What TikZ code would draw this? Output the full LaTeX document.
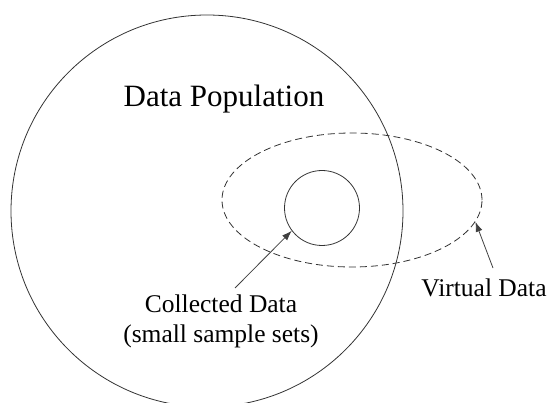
\documentclass[tikz,border=0pt]{standalone}
\usepackage{fontspec}
\setmainfont{Liberation Serif}
\usetikzlibrary{shapes.geometric,arrows.meta}
\begin{document}
\begin{tikzpicture}[x=1pt,y=-1pt,
  ln/.style={draw=black!80, line width=0.8pt},
  arr/.style={black!75, line width=0.8pt, -{Latex[length=10pt,width=7pt]}},
  lbl/.style={inner sep=0pt, anchor=base}]
\useasboundingbox (0,0) rectangle (549,403);
\clip (0,0) rectangle (549,403);
\node[circle, ln, minimum size=392pt, inner sep=0pt] (pop) at (207,211) {};
\node[ellipse, ln, dash pattern=on 7pt off 4pt, minimum width=260pt, minimum height=134pt, inner sep=0pt] (virt) at (352,200) {};
\node[circle, ln, minimum size=75pt, inner sep=0pt] (small) at (322,208) {};
\node[lbl, font=\fontsize{31}{36}\selectfont] (poplbl) at (224,107) {Data Population};
\node[lbl, font=\fontsize{25.5}{30}\selectfont, align=center] (cd) at (221,342) {Collected Data\\(small sample sets)};
\node[lbl, font=\fontsize{25.5}{30}\selectfont] (vd) at (484,297) {Virtual Data};
\coordinate (cdtail) at (235,288);
\coordinate (vdtail) at (493,268);
\draw[arr] (cdtail) -- (small.217);
\draw[arr] (vdtail) -- (virt.-10);
\end{tikzpicture}
\end{document}
